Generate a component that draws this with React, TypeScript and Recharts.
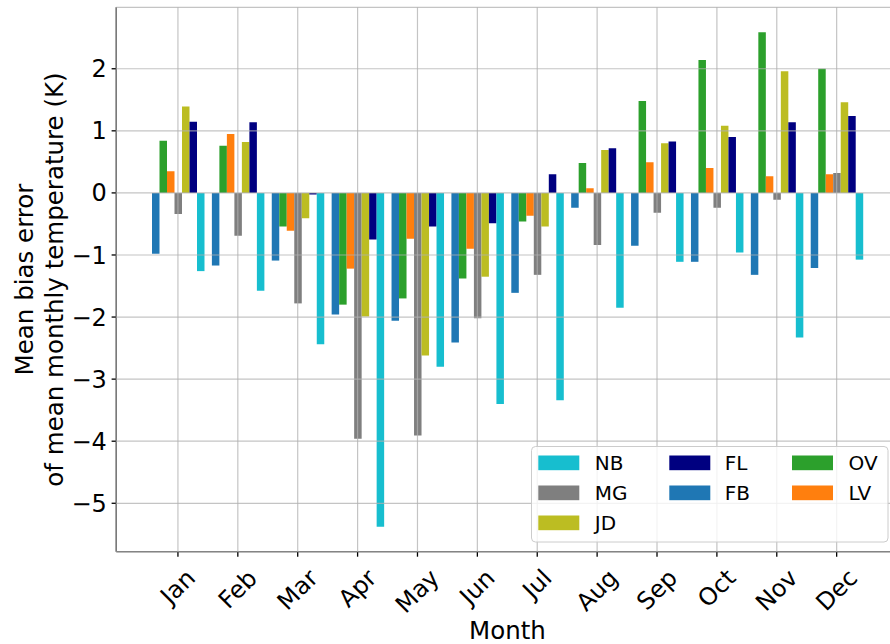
import React from "react";
import { BarChart, Bar, XAxis, YAxis, CartesianGrid, Label } from "recharts";

// monthly mean bias error (K) per station
const MONTHS = ["Jan", "Feb", "Mar", "Apr", "May", "Jun", "Jul", "Aug", "Sep", "Oct", "Nov", "Dec"];
const NB = [-1.26, -1.575, -2.44, -5.38, -2.8, -3.4, -3.34, -1.85, -1.11, -0.96, -2.33, -1.075];
const MG = [-0.34, -0.69, -1.78, -3.96, -3.91, -2.02, -1.32, -0.84, -0.32, -0.24, -0.11, 0.32];
const JD = [1.39, 0.82, -0.41, -1.99, -2.62, -1.35, -0.54, 0.69, 0.8, 1.08, 1.96, 1.46];
const FL = [1.145, 1.14, -0.025, -0.75, -0.54, -0.49, 0.3, 0.72, 0.83, 0.9, 1.14, 1.24];
const FB = [-0.98, -1.17, -1.09, -1.96, -2.06, -2.41, -1.61, -0.24, -0.85, -1.11, -1.32, -1.21];
const OV = [0.84, 0.76, -0.54, -1.8, -1.7, -1.38, -0.46, 0.48, 1.48, 2.14, 2.59, 2.0];
const LV = [0.35, 0.95, -0.61, -1.22, -0.74, -0.9, -0.37, 0.075, 0.495, 0.4, 0.27, 0.3];

const Y_TICKS = [-5, -4, -3, -2, -1, 0, 1, 2];

// bar order inside each month group (left to right)
const SERIES = [
  { key: "FB", values: FB, color: "#1f77b4" },
  { key: "OV", values: OV, color: "#2ca02c" },
  { key: "LV", values: LV, color: "#ff7f0e" },
  { key: "MG", values: MG, color: "#7f7f7f" },
  { key: "JD", values: JD, color: "#bcbd22" },
  { key: "FL", values: FL, color: "#000080" },
  { key: "NB", values: NB, color: "#17becf" },
];

// legend is filled column by column, 3 columns
const LEGEND_ORDER = ["NB", "MG", "JD", "FL", "FB", "OV", "LV"];

const FONT = "'DejaVu Sans', sans-serif";
const SPINE = { stroke: "#000", strokeWidth: 1.3 };

const data = MONTHS.map((month, i) => {
  const row: any = { month };
  SERIES.forEach((s) => {
    row[s.key] = s.values[i];
  });
  return row;
});

// rough DejaVu Sans advance widths, used to centre the rotated month labels
const CHAR_EM: Record<string, number> = {
  J: 0.295, a: 0.613, n: 0.634, F: 0.575, e: 0.615, b: 0.635, M: 0.863, r: 0.411,
  A: 0.684, p: 0.635, y: 0.592, u: 0.634, l: 0.278, g: 0.635, S: 0.635, O: 0.787,
  c: 0.55, t: 0.392, N: 0.748, o: 0.612, v: 0.592, D: 0.77,
};
const emWidth = (s: string) => s.split("").reduce((acc, ch) => acc + (CHAR_EM[ch] ?? 0.6), 0);

function MonthTick(props: any) {
  const { x, y, payload } = props;
  const size = 24;
  const len = (emWidth(payload.value) - 0.1) * size;
  const h = 0.93 * size;
  const cy = y + (len + h) / Math.SQRT2 / 2;
  return (
    <text
      x={x}
      y={cy}
      textAnchor="middle"
      dominantBaseline="central"
      transform={`rotate(-45 ${x} ${cy})`}
      fontSize={size}
      fontFamily={FONT}
      fill="#000"
    >
      {payload.value}
    </text>
  );
}

function YTitle(props: any) {
  const vb = props.viewBox;
  const cy = vb.y + vb.height / 2;
  const x1 = vb.x + 33.3;
  const x2 = vb.x + 63.3;
  return (
    <g fontSize={24.5} fontFamily={FONT} fill="#000">
      <text x={x1} y={cy} textAnchor="middle" transform={`rotate(-90 ${x1} ${cy})`}>
        Mean bias error
      </text>
      <text x={x2} y={cy} textAnchor="middle" transform={`rotate(-90 ${x2} ${cy})`}>
        of mean monthly temperature (K)
      </text>
    </g>
  );
}

function XTitle(props: any) {
  const vb = props.viewBox;
  return (
    <text
      x={vb.x + vb.width / 2}
      y={vb.y + 87.5}
      textAnchor="middle"
      fontSize={24.5}
      fontFamily={FONT}
      fill="#000"
    >
      Month
    </text>
  );
}

function LegendBox() {
  const colX = [7.3, 138.3, 261];
  const textX = [63.8, 193.8, 317.5];
  const color = (k: string) => SERIES.find((s) => s.key === k)!.color;
  return (
    <svg
      width={358}
      height={97}
      style={{ position: "absolute", left: 531.2, top: 445.5 }}
    >
      <rect x={0.5} y={0.5} width={356.5} height={95.5} rx={4} fill="#fff" fillOpacity={0.8} stroke="#cccccc" />
      {LEGEND_ORDER.map((k, i) => {
        const col = i < 3 ? 0 : i < 5 ? 1 : 2;
        const row = i < 3 ? i : i < 5 ? i - 3 : i - 5;
        return (
          <g key={k}>
            <rect x={colX[col]} y={9.5 + row * 30} width={41} height={14.7} fill={color(k)} />
            <text x={textX[col]} y={24.2 + row * 30} fontSize={20} fontFamily={FONT} fill="#000">
              {k}
            </text>
          </g>
        );
      })}
    </svg>
  );
}

export default function App() {
  return (
    <div style={{ position: "absolute", left: 0, top: 0, width: 890, height: 644, overflow: "hidden", background: "#fff" }}>
      <BarChart
        width={920}
        height={644}
        data={data}
        barGap={0}
        barSize={7.5}
        margin={{ top: 7.3, right: 21.4, left: 0, bottom: 0 }}
      >
        <XAxis
          xAxisId="top"
          orientation="top"
          dataKey="month"
          height={0}
          tick={false}
          tickLine={false}
          axisLine={SPINE}
        />
        <XAxis
          dataKey="month"
          interval={0}
          height={92.3}
          padding={{ left: 31.7, right: 32 }}
          tickSize={5}
          tickMargin={10}
          tickLine={SPINE}
          axisLine={SPINE}
          tick={<MonthTick />}
          label={<Label content={<XTitle />} />}
        />
        <YAxis
          type="number"
          domain={[-5.78, 2.99]}
          allowDataOverflow
          ticks={Y_TICKS}
          interval={0}
          width={116.3}
          tickSize={4.7}
          tickMargin={4.8}
          tickFormatter={(v: number) => (v < 0 ? `\u2212${Math.abs(v)}` : `${v}`)}
          tick={{ fontSize: 24, fill: "#000", fontFamily: FONT }}
          tickLine={SPINE}
          axisLine={SPINE}
          label={<Label content={<YTitle />} />}
        />
        {SERIES.map((s) => (
          <Bar key={s.key} dataKey={s.key} fill={s.color} barSize={7.5} isAnimationActive={false} />
        ))}
        <CartesianGrid stroke="#b0b0b0" strokeOpacity={0.75} strokeWidth={1.2} zIndex={600} />
      </BarChart>
      <LegendBox />
    </div>
  );
}
